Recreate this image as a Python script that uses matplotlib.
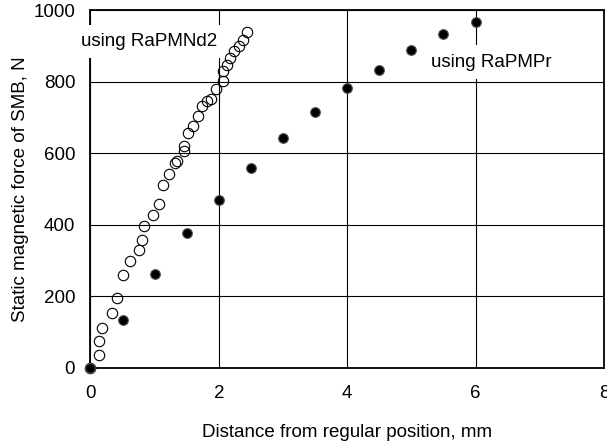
import matplotlib
matplotlib.use("Agg")
import matplotlib.pyplot as plt

plt.rcParams.update({'font.family': 'Liberation Sans', 'font.size': 13.5})

# RaPMNd2 (open circles)
nd2_x = [0.0, 0.13, 0.13, 0.18, 0.34, 0.42, 0.51, 0.62, 0.75, 0.81, 0.84, 0.97,
         1.07, 1.13, 1.23, 1.31, 1.35, 1.45, 1.45, 1.52, 1.59, 1.68, 1.74, 1.81,
         1.88, 1.96, 2.06, 2.07, 2.13, 2.18, 2.24, 2.31, 2.37, 2.44]
nd2_f = [0, 35, 74, 112, 153, 196, 259, 298, 330, 358, 397, 428,
         459, 511, 543, 572, 579, 607, 621, 656, 677, 705, 733, 747,
         752, 780, 801, 829, 848, 867, 885, 899, 917, 938]

# RaPMPr (filled circles)
pr_x = [0.0, 0.5, 1.0, 1.5, 2.0, 2.5, 3.0, 3.5, 4.0, 4.5, 5.0, 5.5, 6.0]
pr_f = [0, 134, 263, 377, 470, 560, 642, 715, 782, 833, 888, 933, 967]

x_ticks = [0, 2, 4, 6, 8]
y_ticks = [0, 200, 400, 600, 800, 1000]

fig = plt.figure(figsize=(6.07, 4.47), dpi=100)
ax = fig.add_axes([0.149, 0.177, 0.846, 0.80])

ax.plot(nd2_x, nd2_f, linestyle="none", marker="o", markersize=7.5,
        markerfacecolor="none", markeredgecolor="black", markeredgewidth=0.8,
        zorder=4, clip_on=False)
ax.plot(pr_x, pr_f, linestyle="none", marker="o", markersize=7,
        markerfacecolor="black", markeredgecolor="#555555", markeredgewidth=0.8,
        zorder=5, clip_on=False)

ax.set_xlim(0, 8)
ax.set_ylim(0, 1000)
ax.set_xticks(x_ticks)
ax.set_yticks(y_ticks)
ax.tick_params(length=0)
ax.tick_params(axis="x", pad=12)
ax.tick_params(axis="y", pad=11)
ax.grid(True, color="black", linewidth=0.8)
for s in ax.spines.values():
    s.set_linewidth(1.3)

ax.set_xlabel("Distance from regular position, mm", labelpad=16)
ax.set_ylabel("Static magnetic force of SMB, N", labelpad=3)

box = dict(facecolor="white", edgecolor="none", pad=6)
ax.text(-0.15, 913, "using RaPMNd2", ha="left", va="center", bbox=box,
        zorder=6, clip_on=False)
ax.text(5.3, 855, "using RaPMPr", ha="left", va="center", bbox=box, zorder=6)

fig.savefig("out.png", dpi=100)
